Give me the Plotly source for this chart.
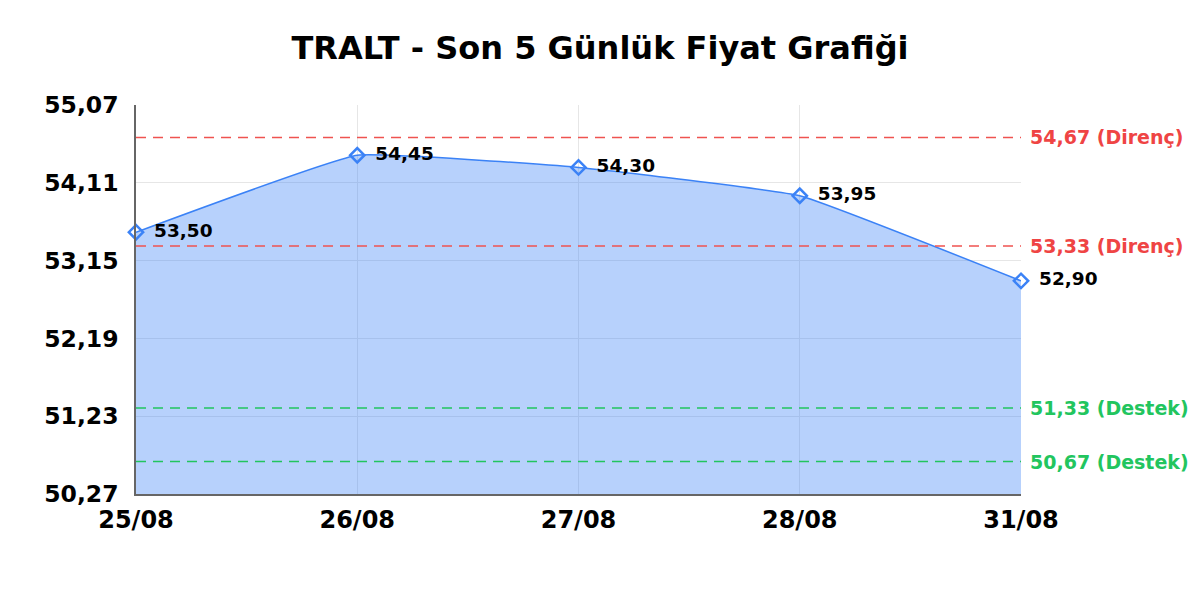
import plotly.graph_objects as go

# price data
dates = ['25/08', '26/08', '27/08', '28/08', '31/08']
prices = [53.50, 54.45, 54.30, 53.95, 52.90]

# support / resistance levels
resistance = [54.67, 53.33]
support = [51.33, 50.67]

y_ticks = [50.27, 51.23, 52.19, 53.15, 54.11, 55.07]

fig = go.Figure()

fig.add_trace(go.Scatter(
    x=dates,
    y=prices,
    mode='lines+markers+text',
    fill='tozeroy',
    fillcolor='rgba(59,130,246,0.37)',
    line=dict(color='#3b82f6', width=1.5, shape='spline', smoothing=0.3),
    marker=dict(symbol='diamond-open', size=11, color='#3b82f6',
                line=dict(width=2.5, color='#3b82f6')),
    text=[' \u2009' + f'{p:.2f}'.replace('.', ',') for p in prices],
    textposition='middle right',
    textfont=dict(family='DejaVu Sans', size=18.5, color='#000000', weight='bold'),
    cliponaxis=False,
    showlegend=False,
    hoverinfo='skip',
))

# dashed level lines + right side labels
for lvl in resistance:
    fig.add_hline(y=lvl, line=dict(color='#ef5350', width=1.5, dash='10px,7px'))
    fig.add_annotation(xref='paper', x=1, y=lvl, xanchor='left', xshift=7,
                       text=f'{lvl:.2f}'.replace('.', ',') + ' (Direnç)', showarrow=False,
                       font=dict(family='DejaVu Sans', size=19, color='#ef4444', weight='bold'))
for lvl in support:
    fig.add_hline(y=lvl, line=dict(color='#22c55e', width=1.5, dash='10px,7px'))
    fig.add_annotation(xref='paper', x=1, y=lvl, xanchor='left', xshift=7,
                       text=f'{lvl:.2f}'.replace('.', ',') + ' (Destek)', showarrow=False,
                       font=dict(family='DejaVu Sans', size=19, color='#22c55e', weight='bold'))

fig.update_layout(
    width=1192, height=584,
    paper_bgcolor='white', plot_bgcolor='white',
    margin=dict(l=128, r=179, t=97, b=98),
    separators=',.',
    title=dict(text='<b>TRALT - Son 5 Günlük Fiyat Grafiği</b>', x=592 / 1192, xref='container',
               xanchor='center', y=1 - 40 / 584, yref='container', yanchor='middle',
               font=dict(family='DejaVu Sans', size=32, color='#000000')),
    font=dict(family='DejaVu Sans', color='#000000'),
)
fig.update_xaxes(
    type='category', range=[0, len(dates) - 1],
    showgrid=True, gridcolor='#e6e6e6', gridwidth=1,
    showline=True, linecolor='#666666', linewidth=1.5,
    ticks='', ticklabelstandoff=3,
    tickfont=dict(family='DejaVu Sans', size=24, color='#000000', weight='bold'),
)
fig.update_yaxes(
    range=[y_ticks[0], y_ticks[-1]], tickvals=y_ticks, tickformat='.2f',
    showgrid=True, gridcolor='#e6e6e6', gridwidth=1,
    showline=True, linecolor='#666666', linewidth=1.5,
    zeroline=False, ticks='', ticklabelstandoff=11,
    tickfont=dict(family='DejaVu Sans', size=23.5, color='#000000', weight='bold'),
)

fig.write_html('out.html')
